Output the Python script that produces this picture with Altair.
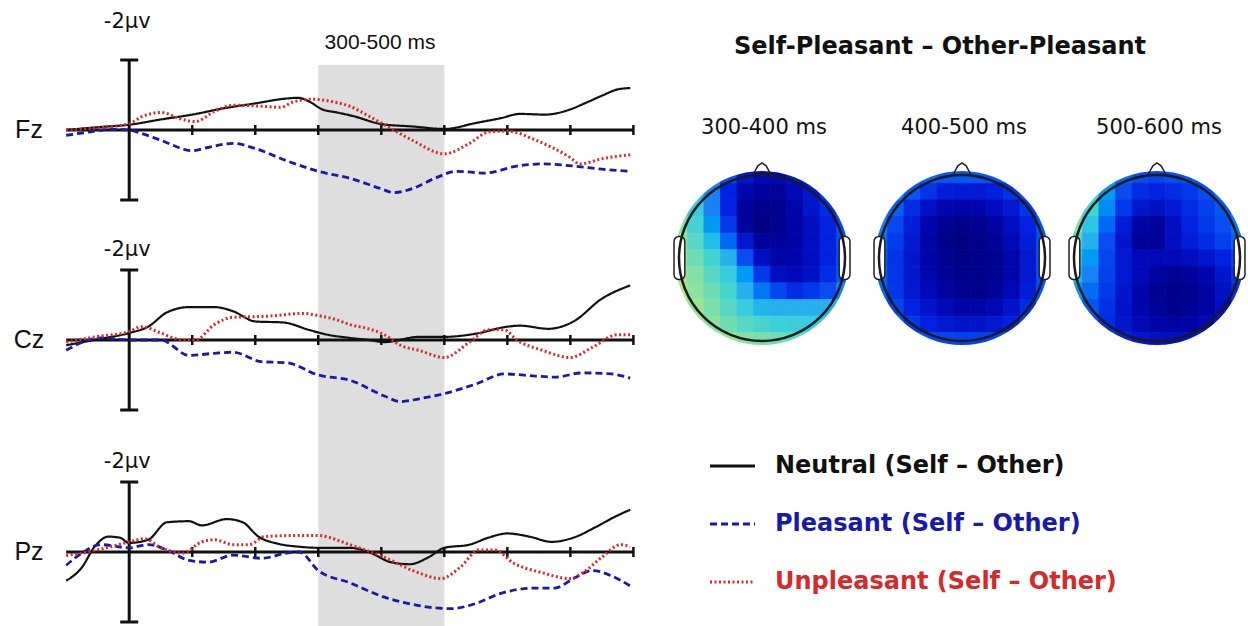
import altair as alt
import pandas as pd

# ---------------- data ----------------
SERIES = ["Neutral", "Pleasant", "Unpleasant"]
LEGEND_LABELS = ["Neutral (Self – Other)", "Pleasant (Self – Other)", "Unpleasant (Self – Other)"]
SERIES_COLORS = ["#111111", "#1a1aa8", "#d42a2a"]
SERIES_DASHES = [[1, 0], [7, 4], [2, 2.5]]
SERIES_WIDTHS = [2.2, 2.8, 3.0]

ELECTRODES = ["Fz", "Cz", "Pz"]
EPOCH_MS = [-100, 800]
TICKS_MS = [100, 200, 300, 400, 500, 600, 700, 800]
WINDOW_MS = [300, 500]
WINDOW_LABEL = "300-500 ms"
CAL_UV = [-2, 2]
CAL_LABEL = "-2µv"

# amplitudes in microvolts (negative is plotted upward)
FZ_NEU_T = [-100, -50, 0, 50, 100, 150, 200, 250, 268, 287, 305, 330, 355, 400, 450, 500, 550, 590, 620, 660, 700, 725, 750, 775, 795]
FZ_NEU_V = [0.0, -0.08, -0.15, -0.3, -0.44, -0.62, -0.76, -0.9, -0.92, -0.8, -0.6, -0.5, -0.4, -0.17, -0.1, -0.03, -0.2, -0.34, -0.46, -0.44, -0.59, -0.78, -0.98, -1.16, -1.2]
FZ_PLE_T = [-100, -60, -30, 0, 20, 50, 100, 125, 165, 200, 250, 300, 350, 400, 420, 450, 485, 520, 565, 615, 655, 705, 750, 795]
FZ_PLE_V = [0.15, 0.05, -0.02, 0.0, 0.1, 0.29, 0.59, 0.5, 0.38, 0.53, 0.88, 1.18, 1.38, 1.68, 1.79, 1.67, 1.38, 1.18, 1.23, 1.03, 0.97, 1.03, 1.12, 1.18]
FZ_UNP_T = [-100, -50, 0, 20, 50, 85, 105, 135, 165, 210, 240, 260, 290, 325, 350, 380, 410, 450, 500, 540, 570, 600, 645, 700, 715, 750, 795]
FZ_UNP_V = [0.0, -0.06, -0.18, -0.38, -0.5, -0.3, -0.24, -0.53, -0.71, -0.68, -0.65, -0.8, -0.88, -0.8, -0.68, -0.4, -0.1, 0.3, 0.68, 0.38, 0.06, 0.03, 0.29, 0.79, 0.97, 0.82, 0.71]

CZ_NEU_T = [-100, -50, 0, 30, 60, 95, 135, 165, 200, 245, 285, 315, 350, 380, 405, 460, 500, 550, 600, 620, 665, 705, 750, 795]
CZ_NEU_V = [0.15, -0.02, -0.2, -0.38, -0.79, -0.94, -0.94, -0.82, -0.53, -0.5, -0.29, -0.15, -0.06, 0.0, 0.06, -0.09, -0.09, -0.18, -0.38, -0.41, -0.32, -0.53, -1.18, -1.56]
CZ_PLE_T = [-100, -45, 0, 50, 95, 135, 165, 210, 250, 300, 350, 405, 430, 460, 500, 550, 595, 645, 675, 720, 765, 795]
CZ_PLE_V = [0.29, -0.06, 0.0, 0.0, 0.44, 0.38, 0.35, 0.62, 0.65, 1.0, 1.15, 1.6, 1.76, 1.68, 1.53, 1.26, 0.97, 1.03, 1.06, 0.94, 0.97, 1.09]
CZ_UNP_T = [-100, -50, 0, 20, 50, 85, 105, 135, 165, 220, 275, 305, 325, 350, 380, 405, 430, 460, 500, 540, 570, 595, 615, 655, 700, 735, 775, 795]
CZ_UNP_V = [0.06, -0.1, -0.24, -0.38, -0.2, 0.0, 0.0, -0.44, -0.65, -0.68, -0.76, -0.68, -0.6, -0.44, -0.32, -0.15, 0.15, 0.3, 0.5, 0.06, -0.29, -0.29, 0.0, 0.29, 0.5, 0.21, -0.15, -0.15]

PZ_NEU_T = [-100, -75, -55, -33, -15, 0, 30, 60, 95, 115, 155, 180, 205, 235, 270, 300, 350, 380, 415, 445, 475, 500, 540, 570, 600, 635, 670, 705, 740, 770, 795]
PZ_NEU_V = [0.82, 0.44, -0.15, -0.44, -0.41, -0.26, -0.35, -0.85, -0.88, -0.76, -0.94, -0.85, -0.44, -0.24, -0.15, -0.12, -0.12, 0.0, 0.29, 0.35, 0.15, -0.12, -0.21, -0.41, -0.53, -0.44, -0.29, -0.41, -0.71, -1.0, -1.21]
PZ_PLE_T = [-100, -75, -45, 0, 30, 60, 95, 125, 165, 210, 250, 270, 300, 350, 405, 450, 510, 550, 590, 645, 675, 705, 735, 765, 795]
PZ_PLE_V = [0.38, 0.03, -0.21, -0.12, -0.21, -0.06, 0.24, 0.29, 0.09, 0.18, 0.03, 0.0, 0.53, 0.88, 1.29, 1.5, 1.62, 1.47, 1.18, 1.03, 1.03, 0.76, 0.53, 0.68, 0.97]
PZ_UNP_T = [-100, -65, -30, 0, 25, 50, 85, 115, 135, 165, 190, 215, 260, 300, 350, 405, 450, 495, 525, 555, 580, 610, 655, 700, 720, 750, 780, 795]
PZ_UNP_V = [0.1, 0.0, -0.15, -0.29, -0.38, -0.12, 0.03, -0.29, -0.35, -0.21, -0.21, -0.44, -0.47, -0.47, -0.21, 0.15, 0.53, 0.76, 0.44, -0.06, -0.06, 0.32, 0.59, 0.76, 0.59, 0.15, -0.21, -0.15]

WAVES = {
    "Fz": [(FZ_NEU_T, FZ_NEU_V), (FZ_PLE_T, FZ_PLE_V), (FZ_UNP_T, FZ_UNP_V)],
    "Cz": [(CZ_NEU_T, CZ_NEU_V), (CZ_PLE_T, CZ_PLE_V), (CZ_UNP_T, CZ_UNP_V)],
    "Pz": [(PZ_NEU_T, PZ_NEU_V), (PZ_PLE_T, PZ_PLE_V), (PZ_UNP_T, PZ_UNP_V)],
}

MAP_TITLE = "Self-Pleasant – Other-Pleasant"
MAP_WINDOWS = ["300-400 ms", "400-500 ms", "500-600 ms"]
# relative negativity, 0 = strongest (dark navy) .. 1 = weakest (yellow-green); rows front -> back
MAP_300_400 = [
    [0.6, 0.55, 0.45, 0.3, 0.15, 0.1, 0.1, 0.15, 0.2, 0.25, 0.3],
    [0.7, 0.55, 0.4, 0.2, 0.08, 0.05, 0.05, 0.1, 0.15, 0.25, 0.3],
    [0.75, 0.6, 0.4, 0.2, 0.05, 0.02, 0.03, 0.08, 0.15, 0.22, 0.3],
    [0.8, 0.65, 0.45, 0.25, 0.05, 0.0, 0.03, 0.07, 0.12, 0.2, 0.3],
    [0.85, 0.7, 0.55, 0.35, 0.15, 0.05, 0.05, 0.07, 0.12, 0.2, 0.3],
    [0.85, 0.75, 0.65, 0.5, 0.3, 0.12, 0.07, 0.08, 0.12, 0.2, 0.3],
    [0.88, 0.8, 0.7, 0.6, 0.45, 0.25, 0.12, 0.1, 0.13, 0.22, 0.32],
    [0.9, 0.82, 0.75, 0.66, 0.5, 0.38, 0.28, 0.22, 0.25, 0.3, 0.4],
    [0.9, 0.85, 0.78, 0.7, 0.6, 0.52, 0.5, 0.5, 0.5, 0.5, 0.5],
    [0.9, 0.88, 0.82, 0.76, 0.7, 0.66, 0.63, 0.62, 0.6, 0.58, 0.56],
    [0.9, 0.9, 0.88, 0.85, 0.8, 0.78, 0.75, 0.72, 0.7, 0.66, 0.62],
]
MAP_400_500 = [
    [0.5, 0.45, 0.4, 0.35, 0.32, 0.32, 0.32, 0.32, 0.33, 0.36, 0.4],
    [0.5, 0.42, 0.32, 0.24, 0.18, 0.17, 0.17, 0.19, 0.24, 0.3, 0.36],
    [0.45, 0.34, 0.22, 0.13, 0.08, 0.07, 0.08, 0.11, 0.16, 0.24, 0.33],
    [0.4, 0.29, 0.18, 0.08, 0.03, 0.02, 0.03, 0.06, 0.12, 0.2, 0.32],
    [0.37, 0.26, 0.16, 0.07, 0.02, 0.0, 0.02, 0.04, 0.1, 0.18, 0.31],
    [0.35, 0.24, 0.15, 0.07, 0.03, 0.01, 0.02, 0.03, 0.08, 0.16, 0.3],
    [0.35, 0.24, 0.15, 0.08, 0.04, 0.02, 0.02, 0.03, 0.08, 0.16, 0.3],
    [0.35, 0.25, 0.16, 0.1, 0.06, 0.03, 0.02, 0.04, 0.1, 0.18, 0.31],
    [0.36, 0.28, 0.2, 0.14, 0.1, 0.07, 0.07, 0.09, 0.14, 0.22, 0.33],
    [0.38, 0.32, 0.25, 0.2, 0.16, 0.14, 0.14, 0.16, 0.2, 0.27, 0.35],
    [0.4, 0.37, 0.33, 0.3, 0.28, 0.27, 0.27, 0.28, 0.3, 0.34, 0.38],
]
MAP_500_600 = [
    [0.8, 0.6, 0.45, 0.35, 0.3, 0.28, 0.3, 0.32, 0.35, 0.4, 0.45],
    [0.85, 0.65, 0.45, 0.3, 0.22, 0.2, 0.22, 0.25, 0.3, 0.35, 0.42],
    [0.92, 0.65, 0.42, 0.25, 0.15, 0.13, 0.17, 0.22, 0.27, 0.32, 0.4],
    [0.8, 0.58, 0.35, 0.18, 0.06, 0.05, 0.12, 0.2, 0.25, 0.3, 0.38],
    [0.7, 0.5, 0.3, 0.15, 0.04, 0.05, 0.12, 0.18, 0.22, 0.27, 0.35],
    [0.6, 0.45, 0.28, 0.16, 0.1, 0.1, 0.1, 0.12, 0.15, 0.2, 0.28],
    [0.52, 0.4, 0.27, 0.16, 0.1, 0.06, 0.04, 0.05, 0.08, 0.15, 0.25],
    [0.45, 0.36, 0.25, 0.15, 0.08, 0.03, 0.02, 0.03, 0.06, 0.13, 0.22],
    [0.4, 0.32, 0.23, 0.14, 0.08, 0.04, 0.02, 0.03, 0.06, 0.12, 0.2],
    [0.38, 0.3, 0.22, 0.15, 0.1, 0.07, 0.06, 0.07, 0.1, 0.15, 0.22],
    [0.38, 0.3, 0.25, 0.2, 0.15, 0.13, 0.12, 0.13, 0.15, 0.2, 0.25],
]
MAPS = [MAP_300_400, MAP_400_500, MAP_500_600]
MAP_COLOR_STOPS = [0.0, 0.1, 0.2, 0.3, 0.4, 0.5, 0.6, 0.7, 0.8, 0.9, 1.0]
MAP_COLORS = ["#000080", "#0008b8", "#0022e0", "#0a4cf0", "#1a80f4", "#28b0ee",
              "#38cce0", "#58d8c4", "#84e0a4", "#b4e684", "#dcea64"]

# ---------------- layout / style ----------------
FONT = "Liberation Sans, Arial, sans-serif"
WIDE_FONT = "DejaVu Sans, Verdana, sans-serif"
PANEL_W = 646
PANEL_H = [209, 209, 208]
BASELINE = [130, 131, 134]
K = 35.0  # px per microvolt
X_DOM = [-205, 820]
BAND_TOP = [65, 0, 0]
CAL_LABEL_Y = [22, 41, 44]
X0_PX = (0 - X_DOM[0]) / (X_DOM[1] - X_DOM[0]) * PANEL_W


def erp_panel(idx):
    name = ELECTRODES[idx]
    H, B = PANEL_H[idx], BASELINE[idx]
    xs = alt.Scale(domain=X_DOM, nice=False, zero=False)
    ys = alt.Scale(domain=[-B / K, (H - B) / K], reverse=True, nice=False, zero=False)

    def X(f):
        return alt.X(f, type="quantitative", scale=xs, axis=None)

    def Y(f):
        return alt.Y(f, type="quantitative", scale=ys, axis=None)

    layers = []
    band = alt.Chart(pd.DataFrame({"t0": [WINDOW_MS[0]], "t1": [WINDOW_MS[1]]})).mark_rect(
        color="#dedede").encode(x=X("t0"), x2="t1", y=alt.value(BAND_TOP[idx]), y2=alt.value(H))
    layers.append(band)

    axis_line = alt.Chart(pd.DataFrame({"t0": [EPOCH_MS[0]], "t1": [EPOCH_MS[1]], "v": [0]})).mark_rule(
        color="#111111", strokeWidth=3).encode(x=X("t0"), x2="t1", y=Y("v"))
    ticks = alt.Chart(pd.DataFrame({"t": TICKS_MS})).mark_rule(color="#111111", strokeWidth=2.5).encode(
        x=X("t"), y=alt.value(B - 5), y2=alt.value(B + 5))
    vbar = alt.Chart(pd.DataFrame({"t": [0], "lo": [CAL_UV[0]], "hi": [CAL_UV[1]]})).mark_rule(
        color="#111111", strokeWidth=3).encode(x=X("t"), y=Y("lo"), y2="hi")
    caps = alt.Chart(pd.DataFrame({"v": CAL_UV})).mark_rule(color="#111111", strokeWidth=3).encode(
        x=alt.value(X0_PX - 9), x2=alt.value(X0_PX + 9), y=Y("v"))
    layers += [axis_line, ticks, vbar, caps]

    rows = []
    for s, (t, v) in zip(SERIES, WAVES[name]):
        rows += [{"t": a, "v": b, "series": s} for a, b in zip(t, v)]
    wave = pd.DataFrame(rows)
    for s, c, d, w in zip(SERIES, SERIES_COLORS, SERIES_DASHES, SERIES_WIDTHS):
        layers.append(
            alt.Chart(wave).transform_filter(alt.datum.series == s).mark_line(
                interpolate="monotone", color=c, strokeDash=d, strokeWidth=w).encode(x=X("t"), y=Y("v")))

    name_txt = alt.Chart(pd.DataFrame({"label": [name]})).mark_text(
        font=FONT, fontSize=25, align="center", baseline="middle", color="#111111").encode(
        x=alt.value(29), y=alt.value(B), text="label:N")
    cal_txt = alt.Chart(pd.DataFrame({"label": [CAL_LABEL]})).mark_text(
        font=WIDE_FONT, fontSize=21, align="center", baseline="middle", color="#111111").encode(
        x=alt.value(X0_PX - 2), y=alt.value(CAL_LABEL_Y[idx]), text="label:N")
    layers += [name_txt, cal_txt]
    if idx == 0:
        win_txt = alt.Chart(pd.DataFrame({"label": [WINDOW_LABEL]})).mark_text(
            font=FONT, fontSize=21, align="center", baseline="middle", color="#111111").encode(
            x=alt.value(380), y=alt.value(43), text="label:N")
        layers.append(win_txt)
    return alt.layer(*layers).properties(width=PANEL_W, height=H)


# topomaps
R = 83.0
MAP_H = 270
MAP_CY = 158
MAP_W = [198, 197, 190]
MAP_OFF = [99, 101, 99]


def topo_panel(i):
    W, off = MAP_W[i], MAP_OFF[i]
    xs = alt.Scale(domain=[-off / R, (W - off) / R], nice=False, zero=False)
    ys = alt.Scale(domain=[-(MAP_H - MAP_CY) / R, MAP_CY / R], nice=False, zero=False)

    def X(f):
        return alt.X(f, type="quantitative", scale=xs, axis=None)

    def Y(f):
        return alt.Y(f, type="quantitative", scale=ys, axis=None)

    grid = MAPS[i]
    n = len(grid)
    step = 2.0 / (n - 1)
    cells = pd.DataFrame([{"gx": -1 + j * step, "gy": 1 - r * step, "v": val}
                          for r, row in enumerate(grid) for j, val in enumerate(row)])
    cscale = alt.Scale(domain=MAP_COLOR_STOPS, range=MAP_COLORS)
    h = step / 2
    cell_layer = alt.Chart(cells).transform_filter(
        "datum.gx*datum.gx + datum.gy*datum.gy <= 1.44").transform_calculate(
        x1=f"datum.gx - {h}", x2=f"datum.gx + {h}", y1=f"datum.gy - {h}", y2=f"datum.gy + {h}"
    ).mark_rect(strokeWidth=0.8, clip=True).encode(
        x=X("x1"), x2="x2", y=Y("y1"), y2="y2",
        fill=alt.Fill("v:Q", scale=cscale, legend=None),
        stroke=alt.Stroke("v:Q", scale=cscale, legend=None))
    center = pd.DataFrame({"cx": [0.0], "cy": [0.0]})
    mask = alt.Chart(center).mark_point(shape="circle", filled=False, color="white", opacity=1,
                                        size=196 ** 2, strokeWidth=22, clip=True).encode(x=X("cx"), y=Y("cy"))
    outline = alt.Chart(center).mark_point(shape="circle", filled=False, color="#1a1a1a", opacity=1,
                                           size=(2 * R) ** 2, strokeWidth=2.5).encode(x=X("cx"), y=Y("cy"))
    ears = alt.Chart(pd.DataFrame({"a": [-1.06, 0.93], "b": [-0.93, 1.06], "lo": [-0.26, -0.26], "hi": [0.26, 0.26]})
                     ).mark_rect(fill="white", stroke="#222222", strokeWidth=1.5, cornerRadius=5).encode(
        x=X("a"), x2="b", y=Y("lo"), y2="hi")
    nose = alt.Chart(pd.DataFrame({"nx": [-0.11, -0.05, 0.0, 0.05, 0.11], "ny": [1.0, 1.11, 1.145, 1.11, 1.0],
                                   "o": [0, 1, 2, 3, 4]})).mark_line(color="#222222", strokeWidth=1.5).encode(
        x=X("nx"), y=Y("ny"), order="o:Q")
    title = alt.Chart(pd.DataFrame({"label": [MAP_WINDOWS[i]]})).mark_text(
        font=WIDE_FONT, fontSize=21, align="center", baseline="middle", color="#111111").encode(
        x=alt.value(off + 2), y=alt.value(28), text="label:N")
    return alt.layer(cell_layer, mask, ears, outline, nose, title).properties(width=W, height=MAP_H)


RIGHT_W = sum(MAP_W)
title_chart = alt.Chart(pd.DataFrame({"label": [MAP_TITLE]})).mark_text(
    font=WIDE_FONT, fontSize=24, fontWeight="bold", align="center", baseline="middle", color="#111111").encode(
    x=alt.value(277), y=alt.value(47), text="label:N").properties(width=RIGHT_W, height=100)

maps_row = alt.hconcat(*[topo_panel(i) for i in range(3)], spacing=0, bounds="flush").resolve_scale(
    x="independent", y="independent")

leg_df = pd.DataFrame({"series": SERIES, "label": LEGEND_LABELS})
leg_y = alt.Y("series:N", scale=alt.Scale(type="point", domain=SERIES, range=[96, 212], padding=0), axis=None)
leg_color = alt.Color("series:N", scale=alt.Scale(domain=SERIES, range=SERIES_COLORS), legend=None)
leg_lines = alt.Chart(leg_df).mark_rule(strokeWidth=3).encode(
    x=alt.value(47), x2=alt.value(92), y=leg_y, color=leg_color,
    strokeDash=alt.StrokeDash("series:N", scale=alt.Scale(domain=SERIES, range=SERIES_DASHES), legend=None))
leg_text = alt.Chart(leg_df).mark_text(font=WIDE_FONT, fontSize=24, fontWeight="bold", align="left",
                                       baseline="middle").encode(
    x=alt.value(112), y=leg_y, color=leg_color, text="label:N")
legend_chart = alt.layer(leg_lines, leg_text).properties(width=RIGHT_W, height=256)

left = alt.vconcat(*[erp_panel(i) for i in range(3)], spacing=0, bounds="flush").resolve_scale(
    x="independent", y="independent")
right = alt.vconcat(title_chart, maps_row, legend_chart, spacing=0).resolve_scale(
    x="independent", y="independent")

chart = alt.hconcat(left, right, spacing=17).resolve_scale(
    x="independent", y="independent").properties(padding=0, background="white").configure_view(
    stroke=None, fill="white")

chart.save("out.html", embed_options={"renderer": "svg", "actions": False})
